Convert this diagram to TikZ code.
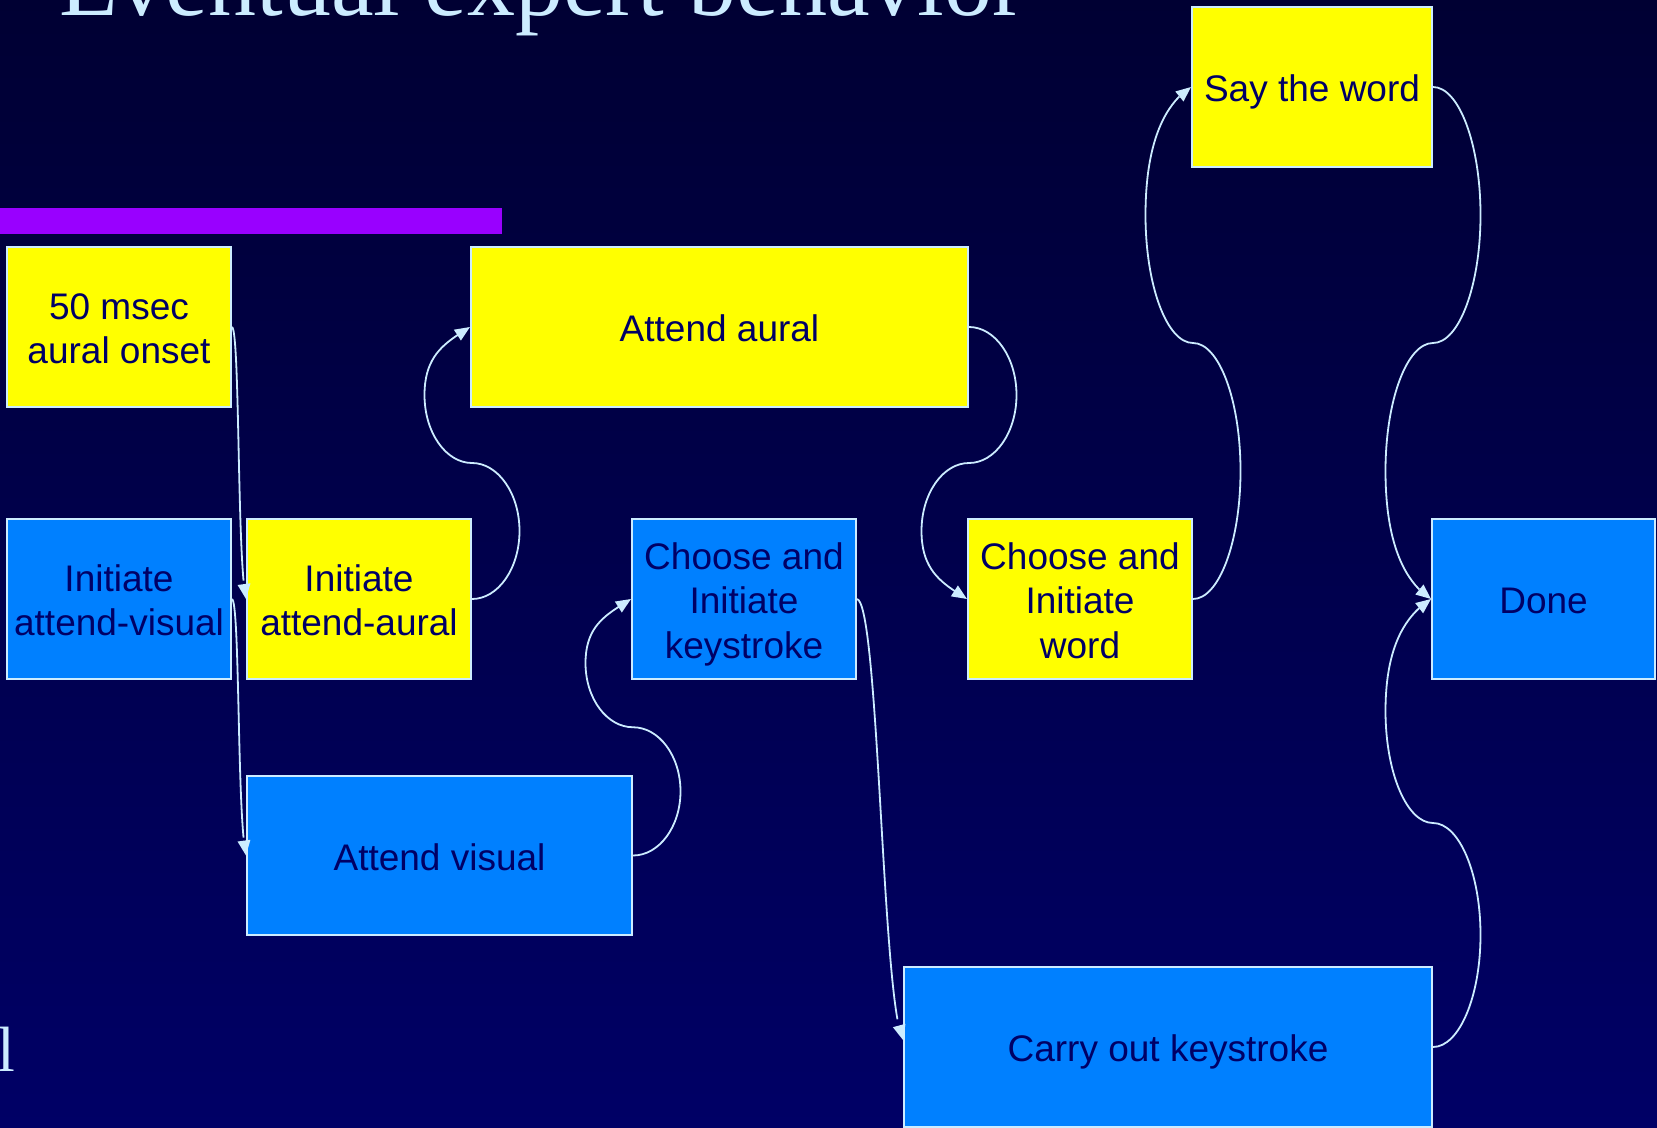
\documentclass[tikz,border=0pt]{standalone}
\usepackage{fontspec}
\setmainfont{Liberation Sans}
\newfontfamily\titlefont{Liberation Serif}
\usetikzlibrary{arrows.meta,calc,bending}

\definecolor{bgtop}{RGB}{0,0,51}
\definecolor{bgbot}{RGB}{0,0,102}
\definecolor{pale}{RGB}{204,236,255}
\definecolor{boxyellow}{RGB}{255,255,0}
\definecolor{boxblue}{RGB}{0,128,255}
\definecolor{ink}{RGB}{0,0,102}
\definecolor{barpurple}{RGB}{153,0,255}

% line-box struts so every label is centred on its full line height
\newcommand{\ascstrut}{\rule{0pt}{1.01em}}
\newcommand{\descstrut}{\rule[-0.212em]{0pt}{0.212em}}

\tikzset{
  card/.style={draw=pale, line width=2pt, inner sep=0pt, align=center,
    text=ink, font=\fontsize{37}{44.4}\selectfont, minimum height=160pt,
    execute at end node=\descstrut},
  aural/.style={card, fill=boxyellow},
  visual/.style={card, fill=boxblue},
  conn/.style={draw=pale, line width=1.8pt, -{Triangle[length=15pt,width=12.5pt]}},
}

% S-shaped connector: right lobe, then left lobe, arriving at the target at an angle.
% #1 start anchor, #2 end anchor, #3 bulge, #4 = 1 if target is above, -1 if below
\newcommand{\sweep}[4]{%
  \draw[conn] let \p1=(#1), \p2=(#2), \n1={(\y2-\y1)/4} in
    (\p1) .. controls ({\x1+0.55*#3}, {\y1}) and ({\x1+#3}, {\y1+0.45*\n1}) .. ({\x1+#3}, {\y1+\n1})
          .. controls ({\x1+#3}, {\y1+1.55*\n1}) and ({\x1+0.55*#3}, {\y1+2*\n1}) .. ({\x1}, {\y1+2*\n1})
          .. controls ({\x1-0.55*#3}, {\y1+2*\n1}) and ({\x1-#3}, {\y1+2.45*\n1}) .. ({\x1-#3}, {\y1+3*\n1})
          .. controls ({\x1-#3}, {\y1+3.6*\n1}) and ({\x2-0.5*#3}, {\y2-(#4)*0.32*#3}) .. (\p2);
}

\begin{document}
\begin{tikzpicture}[x=1pt,y=-1pt]
\useasboundingbox (0,0) rectangle (1657,1127);
\begin{scope}
\clip (0,0) rectangle (1657,1127);
\shade[top color=bgtop, bottom color=bgbot] (0,0) rectangle (1657,1127);

% heading bar and title
\fill[barpurple] (0,208) rectangle (502,234);
\node[anchor=base west, inner sep=0pt, text=pale, font=\titlefont\fontsize{96}{100}\selectfont]
  (title) at (59,15) {Eventual expert behavior};
\node[anchor=base west, inner sep=0pt, text=pale, font=\titlefont\fontsize{64}{70}\selectfont]
  (tail) at (-3,1071) {l};

% tasks
\node[aural,  minimum width=224pt] (b1)  at (119,327)    {\ascstrut 50 msec\\aural onset};
\node[visual, minimum width=224pt] (b2)  at (119,599)    {\ascstrut Initiate\\attend-visual};
\node[aural,  minimum width=224pt] (b3)  at (359,599)    {\ascstrut Initiate\\attend-aural};
\node[aural,  minimum width=497pt] (b4)  at (719.5,327)  {\ascstrut Attend aural};
\node[visual, minimum width=385pt, minimum height=159pt] (b5) at (439.5,855.5) {\ascstrut Attend visual};
\node[visual, minimum width=224pt] (b6)  at (744,599)    {\ascstrut Choose and\\Initiate\\keystroke};
\node[aural,  minimum width=224pt] (b7)  at (1080,599)   {\ascstrut Choose and\\Initiate\\word};
\node[aural,  minimum width=240pt] (b8)  at (1312,87)    {\ascstrut Say the word};
\node[visual, minimum width=223pt] (b9)  at (1543.5,599) {\ascstrut Done};
\node[visual, minimum width=528pt] (b10) at (1168,1047)  {\ascstrut Carry out keystroke};

% near-vertical links
\draw[conn] (b1.east) .. controls ($(b1.east)+(8,4)$) and ($(b3.west)+(-9,-40)$) .. (b3.west);
\draw[conn] (b2.east) .. controls ($(b2.east)+(8,4)$) and ($(b5.west)+(-9,-40)$) .. (b5.west);
\draw[conn] (b6.east) .. controls ($(b6.east)+(22,5)$) and ($(b10.west)+(-21,-47)$) .. ($(b10.west)+(0,-7)$);

% S-shaped links
\sweep{b3.east}{b4.west}{47.5pt}{1}
\sweep{b4.east}{b7.west}{47.5pt}{-1}
\sweep{b5.east}{b6.west}{47.5pt}{1}
\sweep{b7.east}{b8.west}{47.5pt}{1}
\sweep{b8.east}{b9.west}{47.5pt}{-1}
\sweep{b10.east}{b9.west}{47.5pt}{1}
\end{scope}
\end{tikzpicture}
\end{document}
